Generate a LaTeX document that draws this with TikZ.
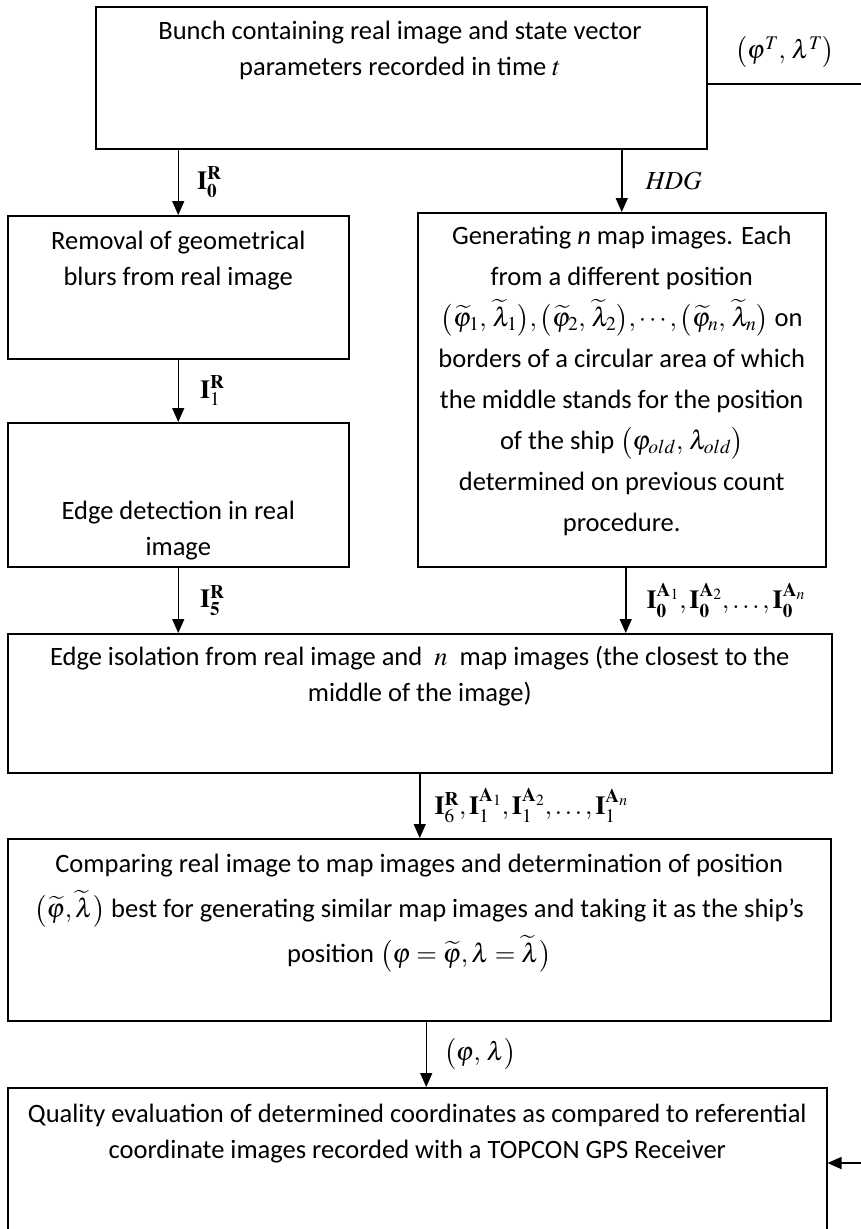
\documentclass[tikz,border=0pt]{standalone}
\usepackage{mathptmx}
\usepackage[no-math]{fontspec}
\setmainfont{Carlito}
\usetikzlibrary{positioning,arrows.meta}

\tikzset{
  box/.style={draw, line width=1.5pt, anchor=north west, inner sep=0pt},
  boxtext/.style={align=center, anchor=north, inner sep=0pt,
    font=\fontsize{26.5}{36}\selectfont},
  flow/.style={-{Triangle[width=12pt,length=14pt]}, line width=1.5pt},
  flowlabel/.style={inner sep=0pt, font=\fontsize{26}{30}\selectfont},
}

\begin{document}
\begin{tikzpicture}[x=1pt, y=-1pt]
  \useasboundingbox (0,0) rectangle (861,1229);

  % Boxes
  \node[box, minimum width=611pt, minimum height=142pt] (bunch) at (95,6) {};
  \node[box, minimum width=341pt, minimum height=143pt] (blur) at (7,215) {};
  \node[box, minimum width=341pt, minimum height=144pt] (edge) at (7,422) {};
  \node[box, minimum width=408pt, minimum height=354pt] (gen) at (417,212) {};
  \node[box, minimum width=824pt, minimum height=139pt] (isol) at (7,633) {};
  \node[box, minimum width=823pt, minimum height=182pt] (comp) at (7,838) {};
  \node[box, minimum width=819pt, minimum height=170pt] (qual) at (7,1087) {};

  % Texts
  \node[boxtext] (bunchtxt) at (400,21)
    {Bunch containing real image and state vector\\
     parameters recorded in time $t$};
  \node[boxtext] (blurtxt) at (blur.north |- 0,231)
    {Removal of geometrical\\ blurs from real image};
  \node[boxtext] (edgetxt) at (edge.north |- 0,501)
    {Edge detection in real\\ image};
  \node[boxtext, font=\fontsize{26.5}{41}\selectfont] (gentxt) at (gen.north |- 0,226)
    {Generating \textit{n} map images. Each\\
     from a different position\\
     $\bigl(\widetilde{\varphi}_1,\,\widetilde{\lambda}_1\bigr),
      \bigl(\widetilde{\varphi}_2,\,\widetilde{\lambda}_2\bigr),\cdots,
      \bigl(\widetilde{\varphi}_n,\,\widetilde{\lambda}_n\bigr)$ on\\
     borders of a circular area of which\\
     the middle stands for the position\\
     of the ship $\bigl(\varphi_{old},\,\lambda_{old}\bigr)$\\
     determined on previous count\\
     procedure.};
  \node[boxtext] (isoltxt) at (isol.north |- 0,646)
    {Edge isolation from real image and \ $n$ \ map images (the closest to the\\
     middle of the image)};
  \node[boxtext, font=\fontsize{26.5}{45}\selectfont] (comptxt) at (comp.north |- 0,854)
    {Comparing real image to map images and determination of position\\
     $\bigl(\widetilde{\varphi},\widetilde{\lambda}\bigr)$ best for generating similar map images and taking it as the ship's\\
     position $\bigl(\varphi=\widetilde{\varphi},\lambda=\widetilde{\lambda}\bigr)$};
  \node[boxtext] (qualtxt) at (qual.north |- 0,1104)
    {Quality evaluation of determined coordinates as compared to referential\\
     coordinate images recorded with a TOPCON GPS Receiver};

  % Arrows
  \draw[flow] (bunch.south -| blur.north) --
    node[flowlabel, right=18pt] (i0r) {$\mathbf{I}^{\mathbf{R}}_{\mathbf{0}}$} (blur.north);
  \draw[flow] (bunch.south -| gen.north) --
    node[flowlabel, right=23pt] (hdg) {$\mathit{HDG}$} (gen.north);
  \draw[flow] (blur.south) --
    node[flowlabel, right=21pt] (i1r) {$\mathbf{I}^{\mathbf{R}}_{1}$} (edge.north);
  \draw[flow] (edge.south) --
    node[flowlabel, right=21pt] (i5r) {$\mathbf{I}^{\mathbf{R}}_{\mathbf{5}}$} (edge.south |- isol.north);
  \draw[flow] ([xshift=4pt]gen.south) --
    node[flowlabel, right=20pt] (i0a)
    {$\mathbf{I}^{\mathbf{A}_1}_{\mathbf{0}},\mathbf{I}^{\mathbf{A}_2}_{\mathbf{0}},\ldots,\mathbf{I}^{\mathbf{A}_n}_{\mathbf{0}}$}
    ([xshift=4pt]gen.south |- isol.north);
  \draw[flow] (isol.south) --
    node[flowlabel, right=14pt] (i6r)
    {$\mathbf{I}^{\mathbf{R}}_{6},\mathbf{I}^{\mathbf{A}_1}_{1},\mathbf{I}^{\mathbf{A}_2}_{1},\ldots,\mathbf{I}^{\mathbf{A}_n}_{1}$}
    (isol.south |- comp.north);
  \draw[flow] ([xshift=7pt]comp.south) --
    node[flowlabel, right=17pt] (phlam) {$\bigl(\varphi,\,\lambda\bigr)$}
    ([xshift=7pt]comp.south |- qual.north);

  % Feedback of the reference position
  \coordinate (fbtop) at (862,84);
  \coordinate (fbbot) at (862,1163);
  \draw[flow] (bunch.east |- fbtop) -- (fbtop) -- (fbbot) -- (qual.east |- fbbot);
  \node[flowlabel, anchor=south] (phiT) at (785,68) {$\left(\varphi^{T},\,\lambda^{T}\right)$};
\end{tikzpicture}
\end{document}
